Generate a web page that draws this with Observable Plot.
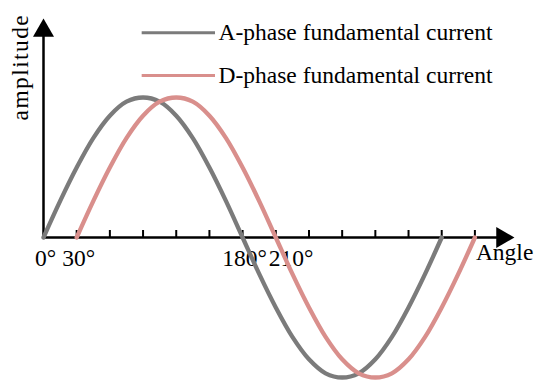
<!DOCTYPE html>
<html>
<head>
<meta charset="utf-8">
<script src="https://cdn.jsdelivr.net/npm/d3@7"></script>
<script src="https://cdn.jsdelivr.net/npm/@observablehq/plot@0.6"></script>
<style>
  html, body { margin: 0; padding: 0; background: #fff; }
</style>
</head>
<body>
<div id="chart"></div>
<script>
// Angles (degrees), 15° apart
const angleA = [0, 15, 30, 45, 60, 75, 90, 105, 120, 135, 150, 165, 180, 195, 210, 225, 240, 255, 270, 285, 300, 315, 330, 345, 360];
const angleD = [30, 45, 60, 75, 90, 105, 120, 135, 150, 165, 180, 195, 210, 225, 240, 255, 270, 285, 300, 315, 330, 345, 360, 375, 390];
// Relative amplitude
const ampA = [0, 0.26, 0.5, 0.71, 0.87, 0.97, 1, 0.97, 0.87, 0.71, 0.5, 0.26, 0, -0.26, -0.5, -0.71, -0.87, -0.97, -1, -0.97, -0.87, -0.71, -0.5, -0.26, 0];
const ampD = [0, 0.26, 0.5, 0.71, 0.87, 0.97, 1, 0.97, 0.87, 0.71, 0.5, 0.26, 0, -0.26, -0.5, -0.71, -0.87, -0.97, -1, -0.97, -0.87, -0.71, -0.5, -0.26, 0];
// Axis ticks and labels
const tickAngles = [30, 60, 90, 120, 150, 180, 210, 240, 270, 300, 330, 360, 390];
const labelAngles = [0, 30, 180, 210];
const labelTexts = ["0°", "30°", "180°", "210°"];
const seriesNames = ["A-phase fundamental current", "D-phase fundamental current"];
const seriesColors = ["#7b7b7b", "#d98f8c"];

const A = angleA.map((a, i) => ({angle: a, amp: ampA[i]}));
const D = angleD.map((a, i) => ({angle: a, amp: ampD[i]}));
const labels = labelAngles.map((a, i) => ({angle: a, text: labelTexts[i]}));

const font = "'Liberation Serif', 'Times New Roman', serif";
const fs = 23.5;

const chart = Plot.plot({
  width: 550,
  height: 391,
  margin: 0,
  x: {domain: [0, 390], range: [43, 474.4], axis: null},
  y: {domain: [-1, 1], range: [377, 97], axis: null},
  style: {fontFamily: font, background: "#fff", overflow: "visible"},
  marks: [
    // axes
    Plot.ruleY([0], {x1: 0, x2: 412, stroke: "#000", strokeWidth: 2.5}),
    Plot.ruleX([0], {y1: 0, y2: 1.44, stroke: "#000", strokeWidth: 2.5}),
    Plot.dot([{x: 414.8, y: 0}], {x: "x", y: "y", symbol: "triangle", r: 7.8, fill: "#000", stroke: null, rotate: 90}),
    Plot.dot([{x: 0, y: 1.478}], {x: "x", y: "y", symbol: "triangle", r: 7.8, fill: "#000", stroke: null}),
    Plot.ruleX(tickAngles, {y1: 0, y2: 0.05, stroke: "#000", strokeWidth: 2}),
    // tick labels
    Plot.text(labels.slice(0, 3), {x: "angle", y: -0.2, text: "text", fontSize: fs, fill: "#000", textAnchor: "middle", lineAnchor: "bottom", dx: 2}),
    Plot.text(labels.slice(3), {x: "angle", y: -0.2, text: "text", fontSize: fs, fill: "#000", textAnchor: "start", lineAnchor: "bottom", dx: -7}),
    Plot.text(["Angle"], {x: 390, y: -0.164, text: d => d, fontSize: fs, fill: "#000", textAnchor: "start", lineAnchor: "bottom", dx: 1}),
    Plot.text(["amplitude"], {x: 0, y: 1.217, text: d => d, fontSize: fs, fill: "#000", rotate: -90, textAnchor: "middle", dx: -23}),
    // curves
    Plot.line(A, {x: "angle", y: "amp", stroke: seriesColors[0], strokeWidth: 4.3, curve: "catmull-rom"}),
    Plot.line(D, {x: "angle", y: "amp", stroke: seriesColors[1], strokeWidth: 4.3, curve: "catmull-rom"}),
    // legend
    Plot.ruleY([1.462], {x1: 89.2, x2: 155.5, stroke: seriesColors[0], strokeWidth: 3}),
    Plot.ruleY([1.157], {x1: 89.2, x2: 155.5, stroke: seriesColors[1], strokeWidth: 3}),
    Plot.text([seriesNames[0]], {x: 158.2, y: 1.462, text: d => d, fontSize: fs, fill: "#000", textAnchor: "start"}),
    Plot.text([seriesNames[1]], {x: 158.2, y: 1.157, text: d => d, fontSize: fs, fill: "#000", textAnchor: "start"})
  ]
});
// widen the vertical axis title's letter spacing as in the reference
d3.select(chart).selectAll("text")
  .filter(function() { return this.textContent === "amplitude"; })
  .attr("letter-spacing", "1.4px");
document.getElementById("chart").appendChild(chart);
</script>
</body>
</html>
